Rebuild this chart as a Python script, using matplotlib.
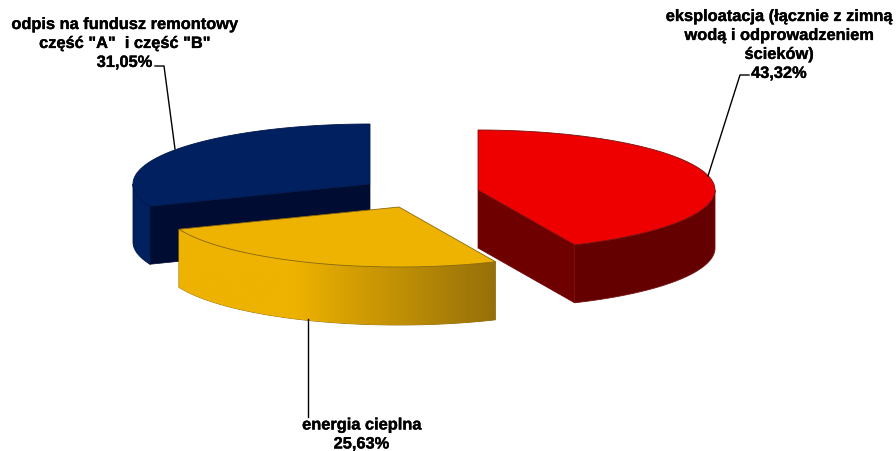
from matplotlib import pyplot as plt
from matplotlib.colors import LinearSegmentedColormap
from matplotlib.patches import Polygon
from matplotlib import patheffects
import numpy as np

labels = ['eksploatacja (łącznie z zimną\nwodą i odprowadzeniem\nścieków)\n43,32%',
          'energia cieplna\n25,63%',
          'odpis na fundusz remontowy\nczęść "A"  i część "B"\n31,05%']
values = [43.32, 25.63, 31.05]

# Ellipse of the tilted pie, in pixels
A = 237
B = 60
DEPTH = 58

plt.rcParams['font.family'] = ['Liberation Sans', 'DejaVu Sans']

fig = plt.figure(figsize=(8.96, 4.52), dpi=100)
ax = fig.add_axes([0, 0, 1, 1])


def arc(cx, cy, start, end, dy=0):
    # angles in degrees, clockwise from twelve o'clock
    t = np.radians(np.linspace(start, end, 120))
    return np.column_stack([cx + A*np.sin(t), cy - B*np.cos(t) + dy])


def wedge(cx, cy, start, end, top, outer, edge, z, face=None, face_end=True):
    rim = arc(cx, cy, start, end)
    # inner wall on whichever straight edge faces the viewer
    if face is not None:
        p = rim[-1] if face_end else rim[0]
        ax.add_patch(Polygon([(cx, cy), p, (p[0], p[1]+DEPTH), (cx, cy+DEPTH)],
                             fc=face, ec=face, lw=0.5, zorder=z))
    # outer wall over the front half of the ellipse
    lo, hi = max(start, 90), min(end, 270)
    wall = None
    if lo < hi:
        front = arc(cx, cy, lo, hi)
        wall = Polygon(np.vstack([front, arc(cx, cy, lo, hi, DEPTH)[::-1]]),
                       fc=outer, ec=edge, lw=0.6, zorder=z+0.1)
        ax.add_patch(wall)
    ax.add_patch(Polygon(np.vstack([[(cx, cy)], rim]), fc=top, ec=edge, lw=0.6,
                         zorder=z+0.2))
    return wall


angles = np.cumsum([0] + values) * 3.6

# back slice first, the front one overlaps it
wedge(370, 185, angles[2], angles[3], '#002060', '#002060', '#00184a', 1,
      face='#000c32', face_end=False)
wedge(478, 191, angles[0], angles[1], '#ee0000', '#640000', '#7a1010', 2, face='#6e0000')
wall = wedge(399, 208, angles[1], angles[2], '#eeb200', '#eeb200', '#8a6a10', 3)

# shaded side of the yellow slice
shade = LinearSegmentedColormap.from_list('shade', [(0, '#eeb200'), (0.37, '#eeb200'),
                                                    (1, '#96700a')])
img = ax.imshow(np.linspace(0, 1, 256).reshape(1, -1), cmap=shade, aspect='auto',
                extent=(177, 495, 330, 225), zorder=3.15)
img.set_clip_path(wall)

ax.set_xlim(0, 896)
ax.set_ylim(452, 0)
ax.axis('off')

# leader lines
ax.plot([708, 740, 749], [177, 76, 76], color='k', lw=1, zorder=5)
ax.plot([175, 164, 155], [150, 67, 67], color='k', lw=1, zorder=0.5)
ax.plot([308, 308], [320, 418], color='k', lw=1, zorder=5)

txt = dict(ha='center', va='top', fontsize=11.8, fontweight='bold', linespacing=1.33,
           color='k', clip_on=False,
           path_effects=[patheffects.withStroke(linewidth=0.25, foreground='k')])
ax.text(779, 10, labels[0], **txt)
ax.text(361.5, 418.5, labels[1], **txt)
ax.text(124.5, 18, labels[2], **txt)

plt.savefig('out.png', dpi=100)
